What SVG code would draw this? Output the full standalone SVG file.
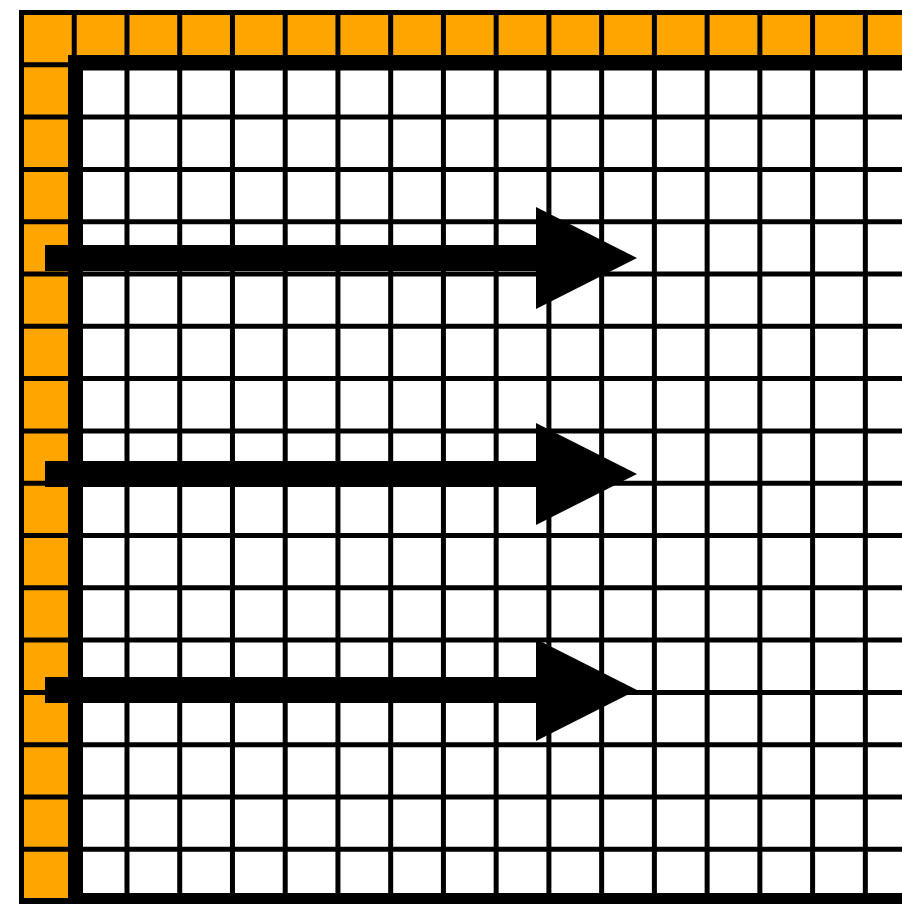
<svg xmlns="http://www.w3.org/2000/svg" width="902" height="904" viewBox="0 0 902 904">
<style>
.g{stroke:#000;stroke-width:5;fill:none}
.arr{fill:#000}
</style>
<defs>
<polygon id="arrowShape" points="45,-13 536,-13 536,-51 637,0 536,51 536,13 45,13"/>
</defs>
<rect width="902" height="904" fill="#fff"/>
<g id="orange-band">
<rect x="19" y="10" width="883" height="894" fill="#FFA500"/>
<rect x="75" y="63" width="827" height="841" fill="#fff"/>
</g>
<g id="grid" class="g">
<path d="M21.5 10V904M74.24 10V904M126.98 10V904M179.72 10V904M232.46 10V904M285.2 10V904M337.94 10V904M390.68 10V904M443.42 10V904M496.16 10V904M548.9 10V904M601.64 10V904M654.38 10V904M707.12 10V904M759.86 10V904M812.6 10V904M865.34 10V904"/>
<path d="M19 12.5H902M19 64.8H902M19 117.1H902M19 169.4H902M19 221.7H902M19 274H902M19 326.3H902M19 378.6H902M19 430.9H902M19 483.2H902M19 535.5H902M19 587.8H902M19 640.1H902M19 692.4H902M19 744.7H902M19 797H902M19 849.3H902"/>
</g>
<g id="thick-border" fill="#000">
<rect x="68" y="55" width="834" height="15.5"/>
<rect x="68" y="55" width="15" height="849"/>
<rect x="68" y="893" width="834" height="11"/>
<rect x="19" y="898" width="50" height="6"/>
</g>
<g id="connectors">
<use href="#arrowShape" class="arr" transform="translate(0,258)"/>
<use href="#arrowShape" class="arr" transform="translate(0,474)"/>
<use href="#arrowShape" class="arr" transform="translate(0,690)"/>
</g>
</svg>
